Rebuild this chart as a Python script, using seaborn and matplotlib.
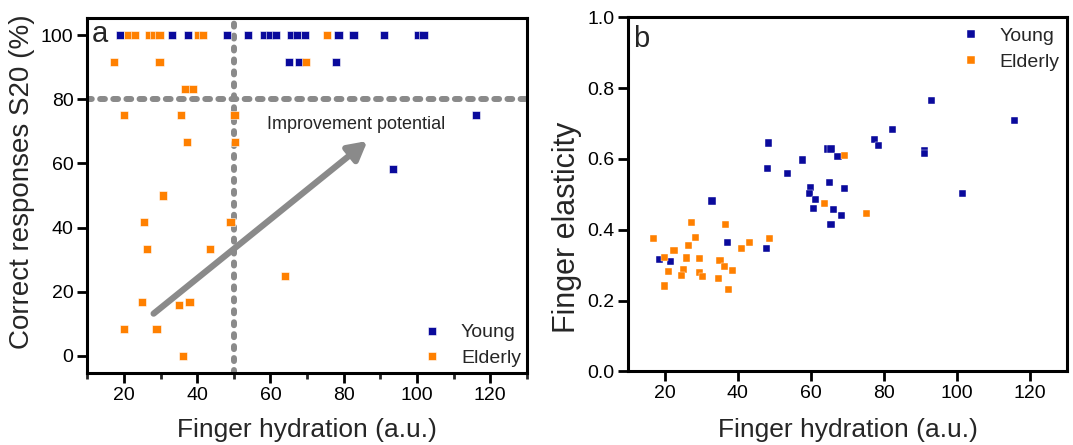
import numpy as np
import pandas as pd
import matplotlib
matplotlib.use('Agg')
import matplotlib.pyplot as plt
from matplotlib.ticker import MultipleLocator, FormatStrFormatter
import seaborn as sns

# panel a: finger hydration vs correct responses (S20, %)
hyd_young_a = [18.8, 33.2, 37.5, 48.2, 53.9, 58.2, 59.8, 61.6, 65.5, 67.3, 69.5,
               78.6, 82.7, 91.1, 100.3, 101.8, 65.0, 67.7, 77.9, 116.2, 93.4]
s20_young_a = [100, 100, 100, 100, 100, 100, 100, 100, 100, 100, 100,
               100, 100, 100, 100, 100, 91.7, 91.7, 91.7, 75, 58.3]
hyd_elderly_a = [21.2, 22.9, 26.8, 28.2, 29.7, 40.2, 41.5, 75.5, 17.3, 29.7, 69.7,
                 36.8, 38.9, 20.0, 35.5, 50.2, 37.1, 50.3, 30.7, 25.5, 49.1,
                 26.2, 43.5, 64.0, 24.9, 37.9, 35.0, 20.0, 28.9, 36.1]
s20_elderly_a = [100, 100, 100, 100, 100, 100, 100, 100, 91.7, 91.7, 91.7,
                 83.3, 83.3, 75, 75, 75, 66.7, 66.7, 50, 41.7, 41.7,
                 33.3, 33.3, 25, 16.7, 16.7, 16.0, 8.3, 8.3, 0]

# panel b: finger hydration vs finger elasticity
hyd_young_b = [93.0, 115.8, 82.4, 77.4, 78.4, 48.4, 64.5, 65.5, 67.4, 91.0, 91.0,
               57.6, 48.0, 53.6, 59.8, 65.1, 69.3, 101.4, 59.5, 61.3, 60.7, 66.2,
               68.4, 65.5, 32.9, 37.1, 47.9, 18.5, 21.5]
ela_young_b = [0.765, 0.708, 0.683, 0.656, 0.638, 0.645, 0.628, 0.628, 0.608, 0.623, 0.616,
               0.597, 0.572, 0.560, 0.519, 0.534, 0.516, 0.502, 0.502, 0.485, 0.460, 0.458,
               0.439, 0.414, 0.481, 0.365, 0.347, 0.317, 0.310]
hyd_elderly_b = [69.3, 63.7, 75.3, 16.8, 27.3, 36.7, 28.5, 48.7, 43.2, 41.1, 26.4,
                 22.5, 19.8, 25.8, 29.4, 35.1, 36.4, 38.5, 25.1, 20.9, 29.5, 30.4,
                 24.6, 34.7, 19.8, 37.5]
ela_elderly_b = [0.610, 0.474, 0.446, 0.376, 0.421, 0.414, 0.378, 0.374, 0.365, 0.348, 0.355,
                 0.341, 0.322, 0.320, 0.318, 0.313, 0.296, 0.285, 0.287, 0.281, 0.280, 0.268,
                 0.271, 0.262, 0.241, 0.230]

hydration_cut = 50
s20_cut = 80
arrow_start = (28.1, 13.2)
arrow_end = (86.5, 67.0)

BLUE = '#0a0a9c'
ORANGE = '#ff8000'
GRAY = '#8a8a8a'
palette = {'Young': BLUE, 'Elderly': ORANGE}


def make_df(hy, vy, he, ve):
    return pd.DataFrame({
        'hydration': hy + he,
        'value': vy + ve,
        'group': ['Young'] * len(hy) + ['Elderly'] * len(he),
    })


def style_axes(ax):
    for sp in ax.spines.values():
        sp.set_visible(True)
        sp.set_linewidth(2.2)
        sp.set_color('black')
    ax.tick_params(which='major', direction='out', length=7, width=2,
                   labelsize=14, pad=3, colors='black')
    ax.tick_params(which='minor', direction='out', length=4.5, width=2)


sns.set_style('ticks')
plt.rcParams['font.family'] = ['Liberation Sans', 'DejaVu Sans']

fig = plt.figure(figsize=(10.73, 4.45), dpi=100)
ax_a = fig.add_axes([0.0814, 0.1625, 0.4095, 0.7977])
ax_b = fig.add_axes([0.5856, 0.1656, 0.4084, 0.7955])

# ---- panel a
df_a = make_df(hyd_young_a, s20_young_a, hyd_elderly_a, s20_elderly_a)
ax_a.axhline(s20_cut, color=GRAY, lw=4.3, linestyle=(0, (0.8, 1.4)),
             dash_capstyle='round', zorder=1)
ax_a.axvline(hydration_cut, color=GRAY, lw=4.3, linestyle=(0, (0.5, 1.5)),
             dash_capstyle='round', zorder=1)
ax_a.annotate('', xy=arrow_end, xytext=arrow_start,
              arrowprops=dict(arrowstyle='-|>,head_length=0.55,head_width=0.3',
                              color=GRAY, lw=4.5, mutation_scale=20,
                              shrinkA=0, shrinkB=0), zorder=2)
sns.scatterplot(data=df_a, x='hydration', y='value', hue='group', palette=palette,
                marker='s', s=34, edgecolor='white', linewidth=0.4, ax=ax_a, zorder=3)
ax_a.text(59.1, 70.6, 'Improvement potential', fontsize=13, va='baseline')
ax_a.set_xlim(10, 130)
ax_a.set_ylim(-5.2, 105.4)
ax_a.xaxis.set_major_locator(MultipleLocator(20))
ax_a.xaxis.set_minor_locator(MultipleLocator(10))
ax_a.yaxis.set_major_locator(MultipleLocator(20))
style_axes(ax_a)
ax_a.set_xlabel('Finger hydration (a.u.)', fontsize=19)
ax_a.set_ylabel('Correct responses S20 (%)', fontsize=20)
ax_a.xaxis.set_label_coords(0.5, -0.128)
ax_a.yaxis.set_label_coords(-0.118, 0.538)
ax_a.text(0.011, 0.932, 'a', transform=ax_a.transAxes, fontsize=21, va='baseline')
sns.move_legend(ax_a, 'lower right', bbox_to_anchor=(1.0, 0.0), title=None,
                frameon=False, fontsize=14, handlelength=1.0, handletextpad=1.0,
                labelspacing=0.4, borderaxespad=0.0, borderpad=0.3)

# ---- panel b
df_b = make_df(hyd_young_b, ela_young_b, hyd_elderly_b, ela_elderly_b)
sns.scatterplot(data=df_b, x='hydration', y='value', hue='group', palette=palette,
                marker='s', s=26, edgecolor='white', linewidth=0.3, ax=ax_b, zorder=3)
ax_b.set_xlim(10, 130)
ax_b.set_ylim(0, 1.0)
ax_b.xaxis.set_major_locator(MultipleLocator(20))
ax_b.set_yticks([0.0, 0.2, 0.4, 0.6, 0.8, 1.0])
ax_b.yaxis.set_major_formatter(FormatStrFormatter('%.1f'))
style_axes(ax_b)
ax_b.set_xlabel('Finger hydration (a.u.)', fontsize=19)
ax_b.set_ylabel('Finger elasticity', fontsize=22)
ax_b.xaxis.set_label_coords(0.5, -0.132)
ax_b.yaxis.set_label_coords(-0.106, 0.407)
ax_b.text(0.011, 0.915, 'b', transform=ax_b.transAxes, fontsize=21, va='baseline')
sns.move_legend(ax_b, 'upper right', bbox_to_anchor=(1.0, 0.99), title=None,
                frameon=False, fontsize=14, handlelength=1.0, handletextpad=1.0,
                labelspacing=0.4, borderaxespad=0.0, borderpad=0.35)

fig.savefig('out.png', dpi=100)
